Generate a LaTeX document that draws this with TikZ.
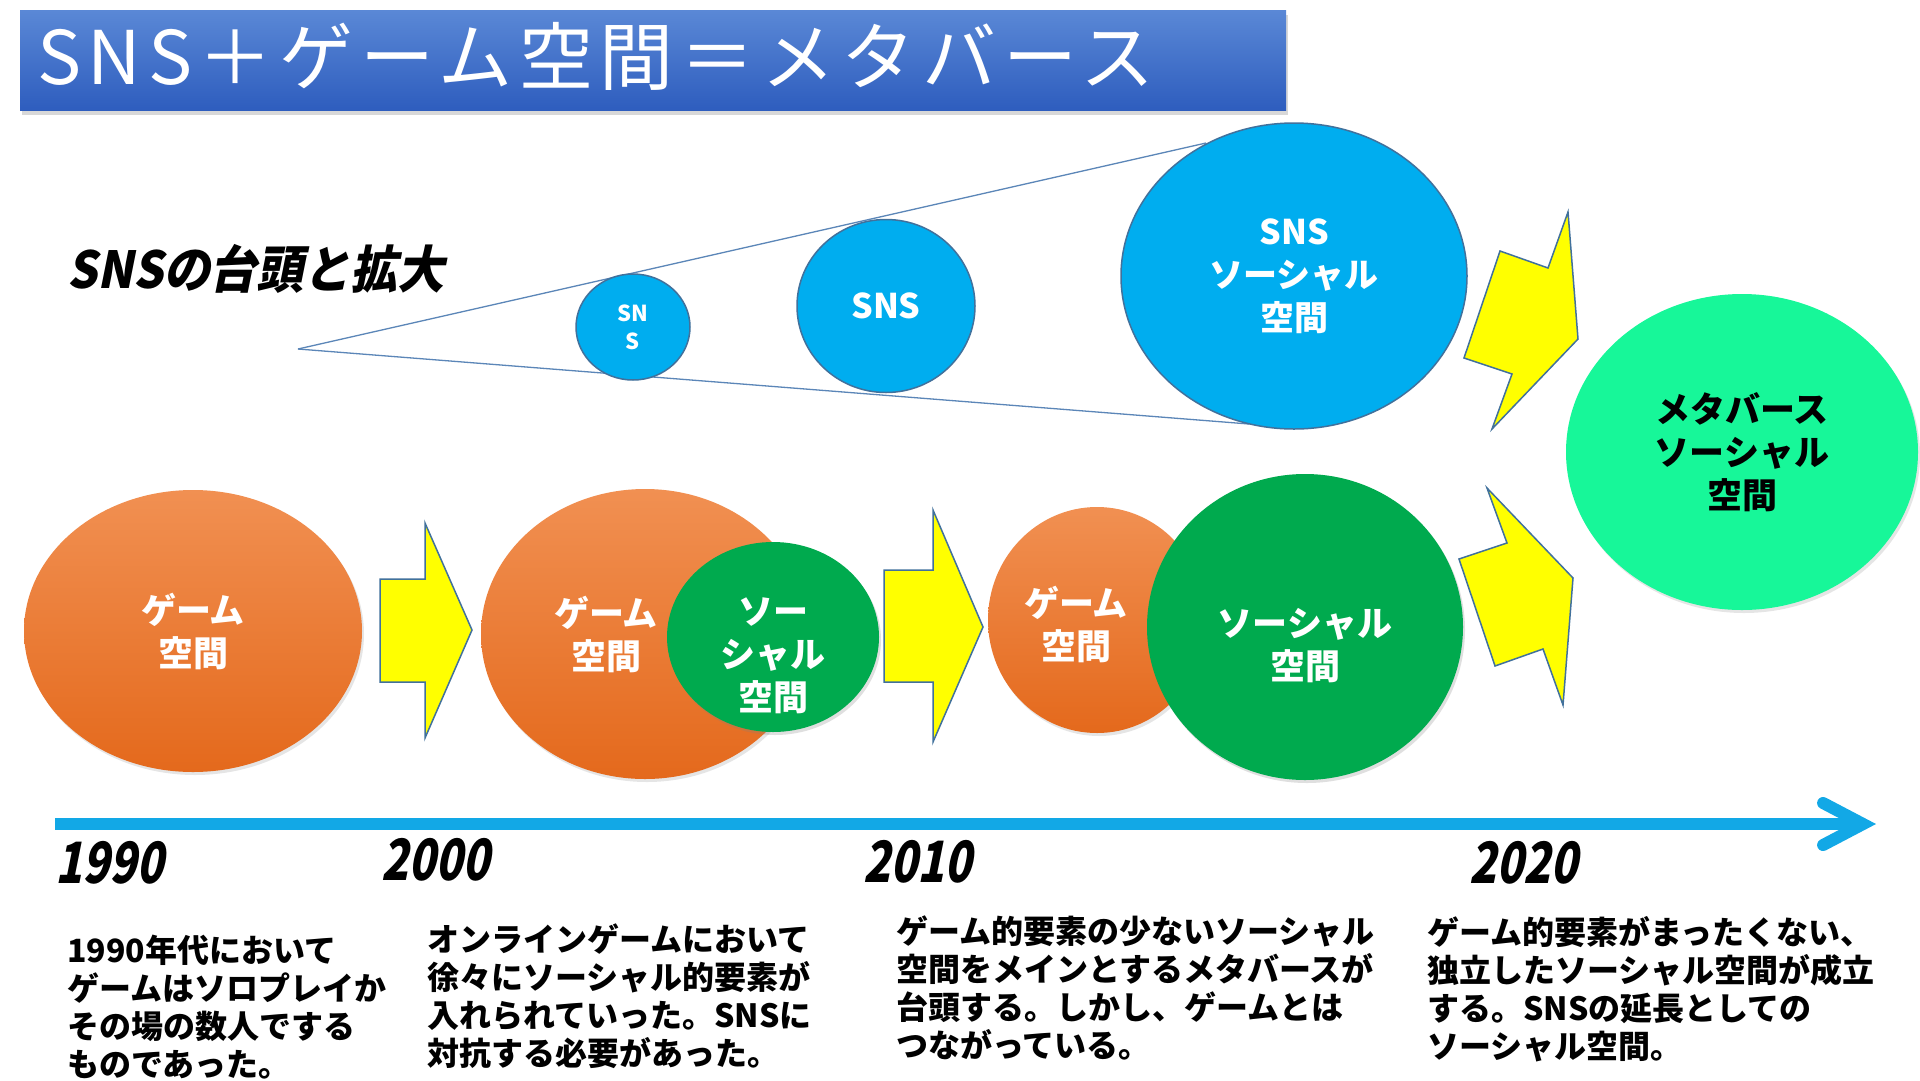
\documentclass[tikz,border=0pt]{standalone}
\usepackage{fontspec}
\setmainfont{Noto Sans CJK JP}
\newfontfamily\slantfont{Noto Sans CJK JP}[FakeSlant=0.2, FakeStretch=0.92]
\newfontfamily\yearfont{Noto Sans CJK JP}[FakeSlant=0.2, FakeStretch=0.78]
\usetikzlibrary{positioning, arrows.meta, shapes.geometric, shadows}
\definecolor{bannertop}{HTML}{5A88D6}
\definecolor{bannerbot}{HTML}{2E5DBE}
\definecolor{gametop}{HTML}{F19052}
\definecolor{gamebot}{HTML}{E4691C}
\definecolor{socialfill}{HTML}{00AA4E}
\definecolor{snsfill}{HTML}{00ADEF}
\definecolor{snsstroke}{HTML}{41719C}
\definecolor{metafill}{HTML}{17F799}
\definecolor{boltfill}{HTML}{FFFF00}
\definecolor{boltstroke}{HTML}{41719C}
\definecolor{timeline}{HTML}{12A8E6}
\definecolor{conestroke}{HTML}{5B86B8}

\begin{document}
\begin{tikzpicture}[
  x=1pt, y=-1pt,
  banner/.style={rectangle, top color=bannertop, bottom color=bannerbot,
                 minimum width=1266pt, minimum height=100pt, inner sep=0pt,
                 drop shadow={shadow xshift=2pt, shadow yshift=-5pt, opacity=0.3}},
  titletext/.style={text=white, inner sep=0pt,
                    font=\fontsize{74}{80}\selectfont\addfontfeatures{LetterSpace=9}},
  heading/.style={inner sep=0pt, font=\slantfont\bfseries\fontsize{51}{58}\selectfont},
  space/.style={ellipse, inner sep=0pt, align=center, text=white,
                font=\bfseries\fontsize{35}{43}\selectfont},
  spacetext/.style={inner sep=0pt, align=center, text=white,
                    font=\bfseries\fontsize{35}{43}\selectfont},
  game/.style={space, top color=gametop, bottom color=gamebot,
               drop shadow={shadow xshift=2pt, shadow yshift=-3pt, opacity=0.2}},
  social/.style={space, fill=socialfill,
                 drop shadow={shadow xshift=2pt, shadow yshift=-3pt, opacity=0.25}},
  sns/.style={space, fill=snsfill, draw=snsstroke, line width=1.5pt,
              font=\bfseries\fontsize{34}{43}\selectfont},
  meta/.style={space, fill=metafill, text=black,
               drop shadow={shadow xshift=2pt, shadow yshift=-3pt, opacity=0.2}},
  bolt/.style={fill=boltfill, draw=boltstroke, line width=1.5pt, line join=miter},
  cone/.style={draw=conestroke, line width=1.3pt},
  timeline arrow/.style={draw=timeline, line width=12pt,
      -{Straight Barb[length=40pt, width=42pt, line cap=round, line join=miter]}},
  year/.style={anchor=west, inner sep=0pt,
               font=\yearfont\bfseries\fontsize{57}{60}\selectfont},
  note/.style={anchor=north west, inner sep=0pt, align=left,
               font=\bfseries\fontsize{32}{38}\selectfont}
]
\useasboundingbox (0,0) rectangle (1920,1080);
\fill[white] (0,0) rectangle (1920,1080);

% Title banner.
\node[banner, anchor=north west] (banner) at (20,10) {};
\node[titletext, anchor=west] (title) at ([xshift=17pt, yshift=4pt]banner.west)
  {SNS＋ゲーム空間＝メタバース};

% Growing SNS cone.
\node[heading, anchor=west] (rise) at (67,269) {SNSの台頭と拡大};
\coordinate (apex)    at (298,349);
\coordinate (conetop) at (1206,143);
\coordinate (conebot) at (1249,424);
\draw[cone] (apex) -- (conetop);
\draw[cone] (apex) -- (conebot);

\node[sns, minimum width=114pt, minimum height=106pt,
      font=\bfseries\fontsize{22}{28}\selectfont] (snssmall) at (633,327) {SN\\S};
\node[sns, minimum width=178pt, minimum height=173pt] (snsmid) at (886,306) {SNS};
\node[sns, minimum width=346pt, minimum height=306pt] (snsbig) at (1294,276)
  {SNS\\ソーシャル\\空間};

% Game to social row.
\node[game, minimum width=338pt, minimum height=282pt] (game1) at (193,631) {ゲーム\\空間};

\node[game, minimum width=328pt, minimum height=290pt] (game2) at (645,634) {};
\node[spacetext] (game2txt) at ([xshift=-39pt]game2.center) {ゲーム\\空間};
\node[social, minimum width=212pt, minimum height=190pt] (social2) at (773,637) {};
\node[spacetext] (social2txt) at ([yshift=-19pt]social2.center) {ソー\\シャル\\空間};

\node[game, minimum width=218pt, minimum height=226pt] (game3) at (1097,620) {};
\node[spacetext] (game3txt) at ([xshift=-21pt, yshift=-4pt]game3.center) {ゲーム\\空間};
\node[social, minimum width=316pt, minimum height=306pt] (social3) at (1305,627) {};
\node[spacetext] (social3txt) at ([yshift=-19pt]social3.center) {ソーシャル\\空間};

\node[meta, minimum width=352pt, minimum height=316pt] (meta) at (1742,452)
  {メタバース\\ソーシャル\\空間};

% Block arrows and bolts.
\draw[bolt] (380,579) -- (425,579) -- (425,523) -- (472,630)
  -- (425,738) -- (425,682) -- (380,682) -- cycle;
\draw[bolt] (884,570) -- (933,570) -- (933,510) -- (983,627)
  -- (933,742) -- (933,682) -- (884,682) -- cycle;
\draw[bolt] (1492,429) -- (1512,374) -- (1464,358) -- (1500,251)
  -- (1548,268) -- (1568,212) -- (1578,339) -- cycle;
\draw[bolt] (1487,488) -- (1507,543) -- (1459,559) -- (1495,666)
  -- (1543,649) -- (1563,705) -- (1573,578) -- cycle;

% Timeline.
\coordinate (tlstart) at (55,824);
\coordinate (tlend)   at (1876,824);
\draw[timeline arrow] (tlstart) -- (tlend);

\node[year] (y1990) at (55,863)   {1990};
\node[year] (y2000) at (381,860)  {2000};
\node[year] (y2010) at (863,862)  {2010};
\node[year] (y2020) at (1469,863) {2020};

\node[note] (note1990) at (67,935)
  {1990年代において\\ゲームはソロプレイか\\その場の数人でする\\ものであった。};
\node[note] (note2000) at (427,924)
  {オンラインゲームにおいて\\徐々にソーシャル的要素が\\入れられていった。SNSに\\対抗する必要があった。};
\node[note] (note2010) at (896,916)
  {ゲーム的要素の少ないソーシャル\\空間をメインとするメタバースが\\台頭する。しかし、ゲームとは\\つながっている。};
\node[note] (note2020) at (1427,916)
  {ゲーム的要素がまったくない、\\独立したソーシャル空間が成立\\する。SNSの延長としての\\ソーシャル空間。};

\end{tikzpicture}
\end{document}
